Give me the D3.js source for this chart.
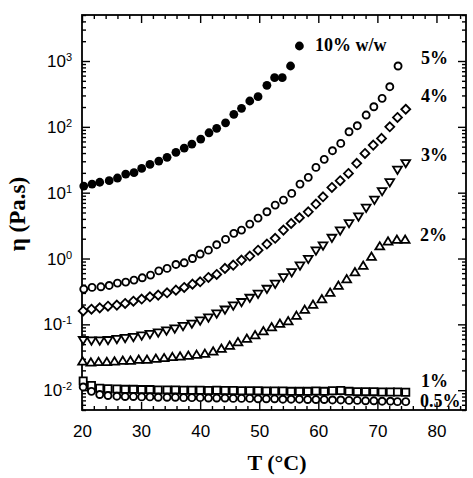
<!DOCTYPE html>
<html><head><meta charset="utf-8">
<script src="https://cdn.jsdelivr.net/npm/d3@7/dist/d3.min.js"></script>
<style>body{margin:0;background:#fff}</style>
</head><body><svg id="c" width="473" height="478"></svg>
<script>
// ---- data ----
const T10=[20.3,21.7,23.0,24.6,26.0,27.4,28.8,30.1,31.5,33.0,34.4,35.9,37.3,38.6,40.1,41.5,42.8,44.3,45.7,47.0,48.4,49.8,51.3,52.6,53.9,55.3,56.8];
const V10=[12.6,13.5,14.4,15.2,16.7,19.2,20.1,23.4,26.9,30.2,34.4,41.0,47.6,54.8,65.3,81.3,94.9,115,155,191,247,287,428,558,558,840,1690];

const T5=[20.3,21.7,23.2,24.6,26.0,27.4,28.8,30.2,31.6,33.0,34.4,35.9,37.3,38.7,40.0,41.4,42.8,44.3,45.7,47.0,48.4,49.8,51.3,52.7,54.1,55.5,56.9,58.3,59.6,61.0,62.4,63.8,65.2,66.6,68.1,69.4,70.8,72.1,73.5];
const V5=[0.343,0.364,0.372,0.390,0.423,0.438,0.470,0.509,0.560,0.650,0.708,0.813,0.861,1.00,1.17,1.34,1.62,1.95,2.41,2.70,3.33,4.11,5.13,6.48,7.72,9.75,13.5,17.1,24.2,32.1,43.4,56.1,84.3,104,151,202,271,407,840];

const T4=[20.2,21.6,23.0,24.4,25.9,27.3,28.7,30.1,31.5,32.9,34.4,35.9,37.3,38.7,40.0,41.4,42.8,44.2,45.6,47.0,48.4,49.8,51.3,52.7,54.1,55.4,56.8,58.3,59.6,60.8,62.3,63.7,65.1,66.5,67.9,69.3,70.7,72.1,73.4,74.8];
const V4=[0.160,0.170,0.178,0.189,0.196,0.208,0.225,0.242,0.262,0.278,0.301,0.331,0.364,0.408,0.443,0.516,0.573,0.708,0.794,0.946,1.09,1.34,1.66,2.03,2.70,3.41,4.16,5.13,6.71,8.67,12.0,15.2,19.6,27.9,39.5,52.8,66.8,100,139,185];

const T3=[20.2,21.6,23.0,24.4,25.9,27.3,28.7,30.1,31.5,32.9,34.3,35.7,37.1,38.6,40.0,41.4,42.8,44.2,45.6,47.0,48.4,49.8,51.3,52.7,54.1,55.5,56.9,58.3,59.6,60.8,62.3,63.7,65.2,66.8,68.1,69.5,70.8,72.1,73.4,74.8];
const V3=[0.0585,0.0575,0.0575,0.0585,0.0607,0.0628,0.0650,0.0685,0.0722,0.0761,0.0817,0.0876,0.0955,0.104,0.116,0.129,0.148,0.170,0.196,0.221,0.256,0.295,0.351,0.419,0.527,0.628,0.794,1.00,1.34,1.60,2.09,2.70,3.49,4.41,5.98,7.91,10.7,14.6,22.6,28.5];

const T2=[20.1,21.5,22.8,24.2,25.5,26.9,28.2,29.6,31.0,32.5,33.9,35.3,36.6,38.0,39.4,40.8,42.2,43.6,45.0,46.4,47.9,49.3,50.7,52.1,53.5,54.9,56.3,57.7,59.1,60.6,62.0,63.4,64.8,66.2,67.6,69.0,70.4,71.8,73.3,74.7];
const V2=[0.0269,0.0260,0.0264,0.0264,0.0269,0.0276,0.0276,0.0286,0.0286,0.0296,0.0303,0.0314,0.0321,0.0329,0.0340,0.0352,0.0382,0.0420,0.0466,0.0527,0.0596,0.0673,0.0774,0.0891,0.1007,0.110,0.133,0.164,0.196,0.237,0.298,0.381,0.478,0.611,0.766,1.05,1.51,1.79,1.90,1.90];

const T1=[20.2,21.6,23.0,24.4,25.9,27.3,28.7,30.1,31.5,32.9,34.4,35.8,37.2,38.6,40.0,41.4,42.8,44.2,45.6,47.0,48.4,49.8,51.2,52.6,54.0,55.4,56.8,58.2,59.6,61.0,62.4,63.8,65.2,66.6,68.0,69.4,70.8,72.2,73.4,74.8];
const V1=[0.0138,0.0118,0.0107,0.0105,0.0104,0.0103,0.0103,0.0102,0.0102,0.0101,0.0101,0.0101,0.0100,0.0100,0.0100,0.0099,0.0100,0.0099,0.0099,0.0098,0.0098,0.0098,0.0097,0.0097,0.0097,0.0096,0.0096,0.0096,0.0097,0.0096,0.0098,0.0099,0.0096,0.0095,0.0095,0.0095,0.0094,0.0094,0.0094,0.0093];

const T05=[20.2,21.6,23.0,24.4,25.9,27.3,28.7,30.1,31.5,32.9,34.4,35.8,37.2,38.6,40.0,41.4,42.8,44.2,45.6,47.0,48.4,49.8,51.2,52.6,54.0,55.4,56.8,58.2,59.6,61.0,62.4,63.8,65.2,66.6,68.0,69.4,70.8,72.2,73.4,74.8];
const V05=[0.0112,0.0096,0.0086,0.0083,0.0081,0.0080,0.0080,0.0079,0.0079,0.0078,0.0078,0.0078,0.0077,0.0077,0.0077,0.0076,0.0076,0.0076,0.0075,0.0075,0.0075,0.0074,0.0074,0.0074,0.0073,0.0073,0.0073,0.0072,0.0072,0.0072,0.0071,0.0071,0.0070,0.0070,0.0069,0.0069,0.0068,0.0068,0.0067,0.0067];

const seriesLabels=["10% w/w","5%","4%","3%","2%","1%","0.5%"];
const xTicks=[20,30,40,50,60,70,80];
const yTickExps=[-2,-1,0,1,2,3];
const xTitle="T (°C)";
const yTitle="η (Pa.s)";

// ---- layout ----
const svg=d3.select("#c");
const L=82,R=466,TOP=15,B=410;
const x=d3.scaleLinear().domain([20,85]).range([L,R]);
const y=d3.scaleLog().domain([0.005,5000]).range([B,TOP]);

const series=[
 {t:T10,v:V10,shape:"fcircle",label:seriesLabels[0],lx:315,ly:51},
 {t:T5,v:V5,shape:"circle",label:seriesLabels[1],lx:421,ly:64},
 {t:T4,v:V4,shape:"diamond",label:seriesLabels[2],lx:421,ly:102},
 {t:T3,v:V3,shape:"tdown",label:seriesLabels[3],lx:421,ly:161},
 {t:T2,v:V2,shape:"tup",label:seriesLabels[4],lx:420,ly:241},
 {t:T1,v:V1,shape:"square",label:seriesLabels[5],lx:421,ly:387},
 {t:T05,v:V05,shape:"circle",label:seriesLabels[6],lx:420,ly:407}
];

// minor ticks
const xMinor=d3.range(20,86,2).filter(d=>d%10!==0);
const yMinor=[];
for(let e=-3;e<=3;e++)for(let m=2;m<=9;m++){const v=m*Math.pow(10,e);if(v>=0.005&&v<=5000)yMinor.push(v);}
const yMajor=yTickExps.map(e=>Math.pow(10,e));

function axisG(a){return svg.append("g").call(a).call(g=>g.select(".domain").remove()).call(g=>g.selectAll("line").attr("stroke","#000").attr("stroke-width",1.4));}
// bottom
axisG(d3.axisBottom(x).tickValues(xTicks).tickSizeInner(-8).tickSizeOuter(0).tickPadding(15).tickFormat(d3.format("d"))).attr("transform",`translate(0,${B})`)
  .call(g=>g.selectAll("text").attr("font-family","Liberation Sans, Arial, sans-serif").attr("font-size",17).attr("fill","#000"));
axisG(d3.axisBottom(x).tickValues(xMinor).tickSizeInner(-4).tickSizeOuter(0).tickFormat("")).attr("transform",`translate(0,${B})`);
// top
axisG(d3.axisTop(x).tickValues(xTicks).tickSizeInner(-8).tickSizeOuter(0).tickFormat("")).attr("transform",`translate(0,${TOP})`);
axisG(d3.axisTop(x).tickValues(xMinor).tickSizeInner(-4).tickSizeOuter(0).tickFormat("")).attr("transform",`translate(0,${TOP})`);
// left
axisG(d3.axisLeft(y).tickValues(yMajor).tickSizeInner(-8).tickSizeOuter(0).tickFormat("")).attr("transform",`translate(${L},0)`);
axisG(d3.axisLeft(y).tickValues(yMinor).tickSizeInner(-4).tickSizeOuter(0).tickFormat("")).attr("transform",`translate(${L},0)`);
// right
axisG(d3.axisRight(y).tickValues(yMajor).tickSizeInner(-8).tickSizeOuter(0).tickFormat("")).attr("transform",`translate(${R},0)`);
axisG(d3.axisRight(y).tickValues(yMinor).tickSizeInner(-4).tickSizeOuter(0).tickFormat("")).attr("transform",`translate(${R},0)`);

// y tick labels 10^n
const yl=svg.append("g").attr("font-family","Liberation Sans, Arial, sans-serif").attr("fill","#000");
yTickExps.forEach(e=>{
  const t=yl.append("text").attr("x",L-10).attr("y",y(Math.pow(10,e))+6).attr("text-anchor","end");
  t.append("tspan").attr("font-size",17).text("10");
  t.append("tspan").attr("font-size",11).attr("dy",-6).text(String(e));
});

// frame
svg.append("rect").attr("x",L).attr("y",TOP).attr("width",R-L).attr("height",B-TOP).attr("fill","none").attr("stroke","#000").attr("stroke-width",1.8);

// markers
const shapes={
  diamond:"M0,-4.5L4.5,0L0,4.5L-4.5,0Z",
  tdown:"M0,4.6L4.4,-2.7L-4.4,-2.7Z",
  tup:"M0,-4.6L4.4,2.7L-4.4,2.7Z",
  square:"M-3.6,-3.6H3.6V3.6H-3.6Z"
};
const mg=svg.append("g");
series.forEach(s=>{
  const pts=s.t.map((t,i)=>({t:t,v:s.v[i]}));
  const g=mg.append("g");
  if(s.shape==="fcircle"){
    g.selectAll("circle").data(pts).join("circle").attr("cx",d=>x(d.t)).attr("cy",d=>y(d.v)).attr("r",4.4).attr("fill","#000");
  }else if(s.shape==="circle"){
    g.selectAll("circle").data(pts).join("circle").attr("cx",d=>x(d.t)).attr("cy",d=>y(d.v)).attr("r",3.5).attr("fill","#fff").attr("stroke","#000").attr("stroke-width",1.9);
  }else{
    g.selectAll("path").data(pts).join("path").attr("d",shapes[s.shape]).attr("transform",d=>`translate(${x(d.t)},${y(d.v)})`).attr("fill","#fff").attr("stroke","#000").attr("stroke-width",1.8).attr("stroke-linejoin","miter");
  }
});

// series labels
const lab=svg.append("g").attr("font-family","Liberation Serif, Times New Roman, serif").attr("font-weight","bold").attr("font-size",18).attr("fill","#000");
series.forEach(s=>{lab.append("text").attr("x",s.lx).attr("y",s.ly).text(s.label);});

// axis titles
svg.append("text").attr("x",(L+R)/2+3).attr("y",470).attr("text-anchor","middle")
  .attr("font-family","Liberation Serif, Times New Roman, serif").attr("font-weight","bold").attr("font-size",22).text(xTitle);
svg.append("text").attr("transform","translate(25,214) rotate(-90)").attr("text-anchor","middle")
  .attr("font-family","Liberation Serif, Times New Roman, serif").attr("font-weight","bold").attr("font-size",23).text(yTitle);
</script>
</body></html>
